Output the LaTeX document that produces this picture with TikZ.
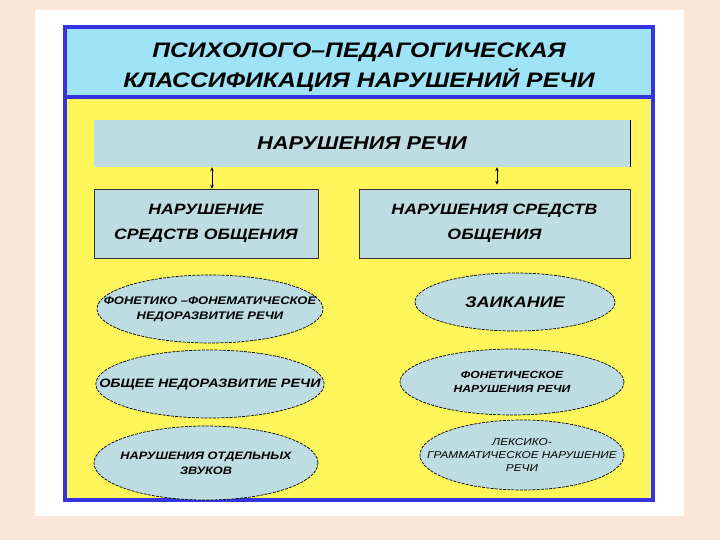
\documentclass[tikz,border=0pt]{standalone}
\usepackage{fontspec}
\setmainfont{Liberation Sans}[FakeStretch=1.18]
\usetikzlibrary{arrows.meta,positioning,shapes.geometric}

\definecolor{peach}{HTML}{FBE6D8}
\definecolor{titlecyan}{HTML}{9FE3F6}
\definecolor{panelyellow}{HTML}{FFF65C}
\definecolor{boxblue}{HTML}{BEDDE3}
\definecolor{frameblue}{HTML}{3434E0}

\begin{document}
\begin{tikzpicture}[
  x=1pt, y=-1pt,
  font=\bfseries\itshape,
  frame/.style={draw=frameblue, line width=3.5pt, rectangle, inner sep=0pt},
  box/.style={rectangle, fill=boxblue, inner sep=0pt, align=center},
  kind/.style={box, draw=black!80, line width=0.6pt},
  oval/.style={ellipse, fill=boxblue, draw=black, line width=0.7pt, dash pattern=on 3pt off 1.2pt, inner xsep=-30pt, inner ysep=0pt, align=center},
  arr/.style={{Stealth[length=4pt,width=3.5pt]}-{Stealth[length=4pt,width=3.5pt]}, line width=0.6pt}
]
\useasboundingbox[fill=peach] (0,0) rectangle (720,540);
\fill[white] (35,10) rectangle (684,516);

% frame and title
\node[frame, fill=panelyellow, minimum width=588, minimum height=403] (panel) at (359,298.5) {};
\node[frame, fill=titlecyan, minimum width=588, minimum height=70] (titlebox) at (359,62) {};
\node[font=\fontsize{21}{30}\selectfont\bfseries\itshape, align=center] (title) at (359,67)
  {ПСИХОЛОГО–ПЕДАГОГИЧЕСКАЯ\\КЛАССИФИКАЦИЯ НАРУШЕНИЙ РЕЧИ};

% boxes
\node[box, minimum width=536, minimum height=47, font=\fontsize{18.5}{22}\selectfont\bfseries\itshape] (speech) at (362,143.5) {НАРУШЕНИЯ РЕЧИ};
\draw[line width=0.6pt] (speech.north east) -- (speech.south east);
\node[kind, minimum width=224, minimum height=69, text depth=3pt, font=\fontsize{15}{25}\selectfont\bfseries\itshape] (means) at (206,223.5) {НАРУШЕНИЕ\\СРЕДСТВ ОБЩЕНИЯ};
\node[kind, minimum width=271, minimum height=69, text depth=3pt, font=\fontsize{15}{25}\selectfont\bfseries\itshape] (usage) at (494.5,223.5) {НАРУШЕНИЯ СРЕДСТВ\\ОБЩЕНИЯ};

\draw[arr] ([xshift=6pt]means.north |- speech.south) -- ([xshift=6pt]means.north);
\draw[arr, shorten >=4pt] ([xshift=2.5pt]usage.north |- speech.south) -- ([xshift=2.5pt]usage.north);

% left column
\node[oval, minimum width=226, minimum height=68, font=\fontsize{11}{15}\selectfont\bfseries\itshape] (ffn) at (210,309) {ФОНЕТИКО –ФОНЕМАТИЧЕСКОЕ\\НЕДОРАЗВИТИЕ РЕЧИ};
\node[oval, minimum width=226, minimum height=68, font=\fontsize{12.2}{15}\selectfont\bfseries\itshape] (onr) at (210,384) {ОБЩЕЕ НЕДОРАЗВИТИЕ РЕЧИ};
\node[oval, minimum width=224, minimum height=74, font=\fontsize{10.8}{15}\selectfont\bfseries\itshape] (sounds) at (206,463) {НАРУШЕНИЯ ОТДЕЛЬНЫХ\\ЗВУКОВ};

% right column
\node[oval, minimum width=200, minimum height=58, font=\fontsize{15.3}{20}\selectfont\bfseries\itshape] (stutter) at (515,302) {ЗАИКАНИЕ};
\node[oval, minimum width=224, minimum height=66, font=\fontsize{10.3}{14}\selectfont\bfseries\itshape] (phon) at (512,382) {ФОНЕТИЧЕСКОЕ\\НАРУШЕНИЯ РЕЧИ};
\node[oval, minimum width=204, minimum height=70, font=\fontsize{10}{13}\selectfont\itshape] (lexgr) at (522,455) {ЛЕКСИКО-\\ГРАММАТИЧЕСКОЕ НАРУШЕНИЕ\\РЕЧИ};
\end{tikzpicture}
\end{document}
